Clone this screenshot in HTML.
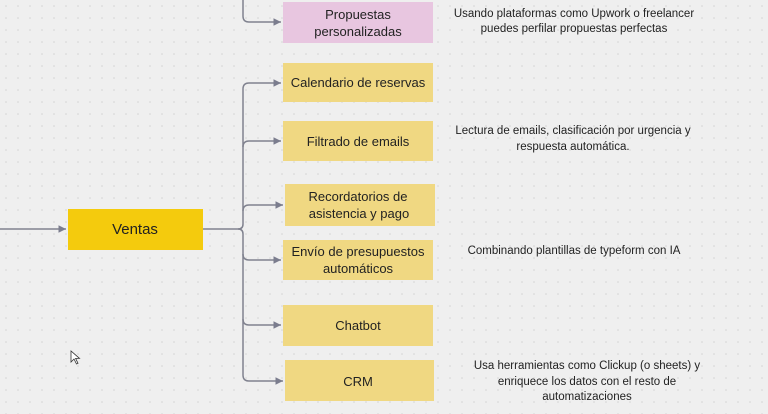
<!DOCTYPE html>
<html><head><meta charset="utf-8"><style>
html,body{margin:0;padding:0;background:#efefef;}
svg{display:block}
text{font-family:"Liberation Sans",sans-serif;fill:#222;}
</style></head><body>
<svg width="768" height="414" viewBox="0 0 768 414" xmlns="http://www.w3.org/2000/svg">
<defs>
<pattern id="d" width="12" height="12" patternUnits="userSpaceOnUse"><circle cx="6" cy="6" r="0.8" fill="#d2d2d2"/></pattern>
<marker id="a" markerWidth="6" markerHeight="6" refX="5" refY="3" orient="auto"><path d="M0,0.5 L5,3 L0,5.5z" fill="#7b7d8e"/></marker>
</defs>
<rect width="768" height="414" fill="#efefef"/>
<rect width="768" height="414" fill="url(#d)"/>
<g fill="none" stroke="#80828f" stroke-width="1.5">
<path d="M0,229 H66" marker-end="url(#a)"/>
<path d="M203,229 H238"/>
<path d="M243,0 V16 Q243,22 249,22 H281" marker-end="url(#a)"/>
<path d="M238,229 Q243,229 243,224 V89 Q243,83 249,83 H281" marker-end="url(#a)"/>
<path d="M243,147 Q243,141 249,141 H281" marker-end="url(#a)"/>
<path d="M243,211 Q243,205 249,205 H283" marker-end="url(#a)"/>
<path d="M238,229 Q243,229 243,234 V375 Q243,381 249,381 H283" marker-end="url(#a)"/>
<path d="M243,254 Q243,260 249,260 H281" marker-end="url(#a)"/>
<path d="M243,319 Q243,325 249,325 H281" marker-end="url(#a)"/>
</g>
<rect x="68" y="209" width="135" height="41" fill="#f4cb0d"/>
<rect x="283" y="2" width="150" height="41" fill="#e8c6e0"/>
<rect x="283" y="63" width="150" height="39" fill="#f0d882"/>
<rect x="283" y="121" width="150" height="40" fill="#f0d882"/>
<rect x="285" y="184" width="150" height="42" fill="#f0d882"/>
<rect x="283" y="240" width="150" height="40" fill="#f0d882"/>
<rect x="283" y="305" width="150" height="41" fill="#f0d882"/>
<rect x="285" y="360" width="149" height="41" fill="#f0d882"/>
<g text-anchor="middle" font-size="13">
<text x="135" y="234" font-size="15">Ventas</text>
<text x="358" y="19">Propuestas</text>
<text x="358" y="36">personalizadas</text>
<text x="358" y="87">Calendario de reservas</text>
<text x="358" y="146">Filtrado de emails</text>
<text x="358" y="201">Recordatorios de</text>
<text x="359" y="218">asistencia y pago</text>
<text x="358" y="256">Envío de presupuestos</text>
<text x="358" y="273">automáticos</text>
<text x="358" y="330">Chatbot</text>
<text x="358" y="386">CRM</text>
</g>
<g text-anchor="middle" font-size="11.5">
<text x="574" y="17">Usando plataformas como Upwork o freelancer</text>
<text x="574" y="32">puedes perfilar propuestas perfectas</text>
<text x="573" y="134">Lectura de emails, clasificación por urgencia y</text>
<text x="573" y="150">respuesta automática.</text>
<text x="574" y="254">Combinando plantillas de typeform con IA</text>
<text x="587" y="369">Usa herramientas como Clickup  (o sheets) y</text>
<text x="587" y="385">enriquece los datos con el resto de</text>
<text x="587" y="400">automatizaciones</text>
</g>
<path d="M71,351 V362 L74,359 L76.5,364 L78,363.3 L75.6,358.4 L79.5,358.4z" fill="#fff" stroke="#333" stroke-width="0.8"/>
</svg>
</body></html>
